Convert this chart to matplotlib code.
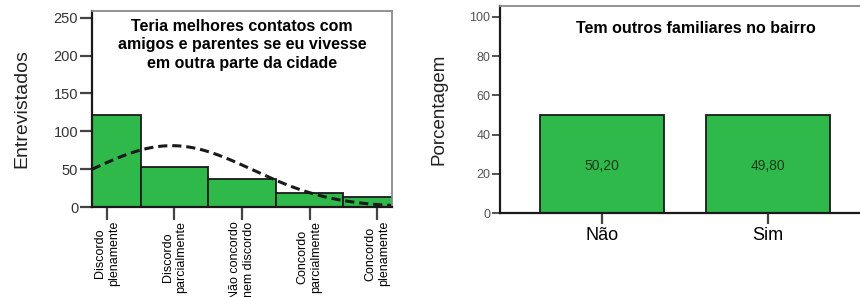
import numpy as np
import matplotlib
matplotlib.use("Agg")
import matplotlib.pyplot as plt

plt.rcParams["font.family"] = ["Liberation Sans", "DejaVu Sans"]

# Left chart: histogram of answers
likertLabels = [
    "Discordo\nplenamente",
    "Discordo\nparcialmente",
    "Não concordo\nnem discordo",
    "Concordo\nparcialmente",
    "Concordo\nplenamente",
]
likertCodes = [1, 2, 3, 4, 5]
likertCounts = [122, 53, 37, 18, 13]

# Right chart: percentages
familyLabels = ["Não", "Sim"]
familyPercent = [50.20, 49.80]

GREEN = "#2fb94a"
DARK = "#1a1a1a"
GREY = "#8a8a8a"


def styleFrame(ax):
    # SPSS style: dark left/bottom, lighter top/right
    ax.spines["left"].set_color(DARK)
    ax.spines["bottom"].set_color(DARK)
    ax.spines["left"].set_linewidth(1.6)
    ax.spines["bottom"].set_linewidth(1.6)
    ax.spines["top"].set_color(GREY)
    ax.spines["right"].set_color(GREY)
    ax.spines["top"].set_linewidth(1.3)
    ax.spines["right"].set_linewidth(1.3)


fig = plt.figure(figsize=(8.6, 2.97), dpi=100)

# ---- left histogram ----
ax1 = fig.add_axes([0.107, 0.303, 0.349, 0.66])
ax1.bar(likertCodes, likertCounts, width=1.0, color=GREEN,
        edgecolor=DARK, linewidth=1.3)

# normal curve fitted to the counts
codes = np.array(likertCodes, dtype=float)
counts = np.array(likertCounts, dtype=float)
total = counts.sum()
mean = (codes * counts).sum() / total
sd = np.sqrt(((codes - mean) ** 2 * counts).sum() / total)
xs = np.linspace(0.78, 5.22, 200)
ys = total / (sd * np.sqrt(2 * np.pi)) * np.exp(-0.5 * ((xs - mean) / sd) ** 2)
ax1.plot(xs, ys, color=DARK, linestyle=(0, (3, 1.6)), linewidth=2.2)

ax1.set_xlim(0.78, 5.22)
ax1.set_ylim(0, 259)
ax1.set_yticks([0, 50, 100, 150, 200, 250])
ax1.set_xticks(likertCodes)
ax1.set_xticklabels(likertLabels, rotation=90, fontsize=9, va="top",
                    ha="center", multialignment="center", linespacing=1.2)
ax1.tick_params(axis="y", length=9, width=1.6, color="#444444",
                labelsize=10.5, labelcolor="#333333", pad=1)
ax1.tick_params(axis="x", length=9, width=1.6, color="#444444", pad=1)
ax1.set_ylabel("Entrevistados", fontsize=14, labelpad=17, color="#222222")
styleFrame(ax1)
ax1.text(0.5, 0.96,
         "Teria melhores contatos com\namigos e parentes se eu vivesse\nem outra parte da cidade",
         transform=ax1.transAxes, ha="center", va="top", fontsize=11.5,
         fontweight="bold", linespacing=1.3)

# ---- right bar chart ----
ax2 = fig.add_axes([0.5814, 0.2828, 0.4302, 0.697])
xpos = np.arange(len(familyLabels))
bars = ax2.bar(xpos, familyPercent, width=0.75, color=GREEN,
               edgecolor=DARK, linewidth=1.3)
for bar, val in zip(bars, familyPercent):
    ax2.text(bar.get_x() + bar.get_width() / 2, 24,
             f"{val:.2f}".replace(".", ","), ha="center", va="center",
             fontsize=10, color="#1f3a1f")

ax2.set_xlim(-0.614, 1.614)
ax2.set_ylim(0, 105.6)
ax2.set_yticks([0, 20, 40, 60, 80, 100])
ax2.set_xticks(xpos)
ax2.set_xticklabels(familyLabels, fontsize=13)
ax2.tick_params(axis="y", length=6, width=1.3, color="#444444",
                labelsize=9, labelcolor="#555555", pad=1)
ax2.tick_params(axis="x", length=8, width=1.6, color="#444444", pad=2)
ax2.set_ylabel("Porcentagem", fontsize=13.5, labelpad=16, color="#222222")
styleFrame(ax2)
ax2.text(0.53, 0.89, "Tem outros familiares no bairro",
         transform=ax2.transAxes, ha="center", va="center", fontsize=11.5,
         fontweight="bold")

fig.savefig("out.png", dpi=100)
